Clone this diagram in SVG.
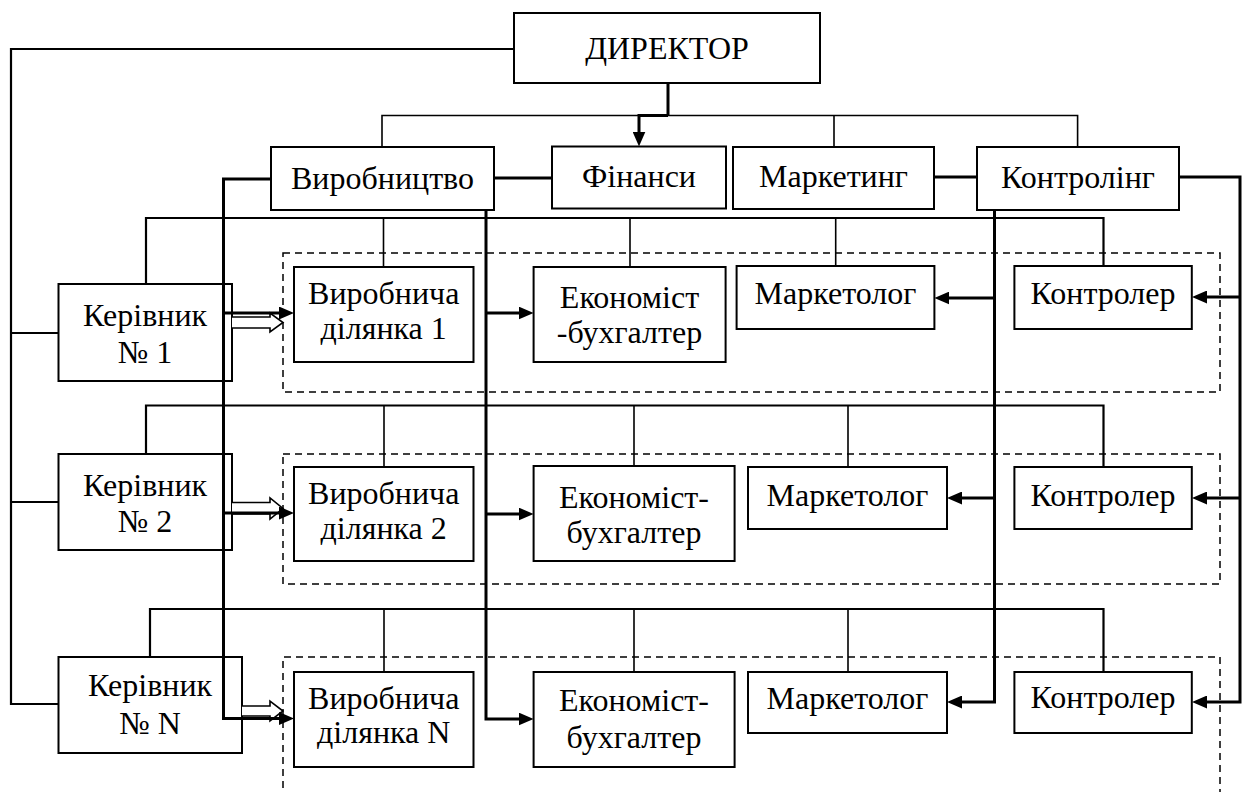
<svg xmlns="http://www.w3.org/2000/svg" width="1244" height="792" viewBox="0 0 1244 792">
<style>
.box{fill:#fff;stroke:#000;stroke-width:2}
.dash{fill:none;stroke:#000;stroke-width:1.5;stroke-dasharray:7 5}
.ln{fill:none;stroke:#000;stroke-width:1.6}
.md{fill:none;stroke:#000;stroke-width:2.2}
.tk{fill:none;stroke:#000;stroke-width:3}
.hol{fill:#fff;stroke:#000;stroke-width:1.6}
.t{font-size:32px;fill:#000;text-anchor:middle}
</style>
<defs>
<marker id="ah" markerUnits="userSpaceOnUse" markerWidth="15" markerHeight="13" refX="4" refY="6.5" orient="auto" viewBox="0 0 15 13">
<path d="M0,0 L15,6.5 L0,13 z" fill="#000"/>
</marker>
</defs>
<rect width="1244" height="792" fill="#fff"/>
<g id="groups">
<rect class="dash" x="283" y="253" width="937" height="139"/>
<rect class="dash" x="283" y="454" width="937" height="130"/>
<path class="dash" d="M283,800 V657 H1220 V800"/>
</g>
<g font-family="'Liberation Serif', 'DejaVu Serif', serif">
<g id="director"><rect class="box" x="514" y="13" width="306" height="70"/><text class="t" x="667" y="59">ДИРЕКТОР</text></g>
<g id="vyrobnytstvo"><rect class="box" x="271" y="147" width="223" height="63"/><text class="t" x="382.5" y="189">Виробництво</text></g>
<g id="finansy"><rect class="box" x="552" y="146.5" width="174" height="62"/><text class="t" x="639" y="187">Фінанси</text></g>
<g id="marketynh"><rect class="box" x="733" y="147" width="201" height="62"/><text class="t" x="833.5" y="187">Маркетинг</text></g>
<g id="kontrolinh"><rect class="box" x="977" y="147" width="202" height="63"/><text class="t" x="1078" y="188">Контролінг</text></g>
<g id="kerivnyk1"><rect class="box" x="58.5" y="284" width="173.5" height="97"/><text class="t" x="145" y="326">Керівник</text><text class="t" x="145" y="363">№ 1</text></g>
<g id="kerivnyk2"><rect class="box" x="58.5" y="454" width="173.5" height="96"/><text class="t" x="145" y="496">Керівник</text><text class="t" x="145" y="532">№ 2</text></g>
<g id="kerivnykN"><rect class="box" x="58.5" y="657" width="183.5" height="96"/><text class="t" x="150" y="696">Керівник</text><text class="t" x="150" y="734">№ N</text></g>
<g id="dilianka1"><rect class="box" x="294" y="267" width="179.5" height="95"/><text class="t" x="383.7" y="304">Виробнича</text><text class="t" x="383.7" y="339">ділянка 1</text></g>
<g id="dilianka2"><rect class="box" x="294" y="467" width="179.5" height="94"/><text class="t" x="383.7" y="504">Виробнича</text><text class="t" x="383.7" y="539">ділянка 2</text></g>
<g id="diliankaN"><rect class="box" x="294" y="672" width="179.5" height="95"/><text class="t" x="383.7" y="709">Виробнича</text><text class="t" x="383.7" y="743">ділянка N</text></g>
<g id="ekonomist1"><rect class="box" x="533.6" y="267" width="192" height="95"/><text class="t" x="629.5" y="308">Економіст</text><text class="t" x="629.5" y="343">-бухгалтер</text></g>
<g id="ekonomist2"><rect class="box" x="533.6" y="466" width="201" height="95"/><text class="t" x="634" y="508">Економіст-</text><text class="t" x="634" y="543">бухгалтер</text></g>
<g id="ekonomistN"><rect class="box" x="533.6" y="672" width="201" height="95"/><text class="t" x="634" y="711">Економіст-</text><text class="t" x="634" y="748">бухгалтер</text></g>
<g id="marketoloh1"><rect class="box" x="736.6" y="266" width="197.8" height="63"/><text class="t" x="835.5" y="304">Маркетолог</text></g>
<g id="marketoloh2"><rect class="box" x="748" y="467" width="199" height="62"/><text class="t" x="847.5" y="506">Маркетолог</text></g>
<g id="marketolohN"><rect class="box" x="748" y="672" width="199" height="61"/><text class="t" x="847.5" y="709">Маркетолог</text></g>
<g id="kontroler1"><rect class="box" x="1014.4" y="266" width="177.4" height="63"/><text class="t" x="1103" y="304">Контролер</text></g>
<g id="kontroler2"><rect class="box" x="1014.4" y="467" width="177.4" height="62"/><text class="t" x="1103" y="506">Контролер</text></g>
<g id="kontrolerN"><rect class="box" x="1014.4" y="672" width="177.4" height="61"/><text class="t" x="1103" y="708">Контролер</text></g>
</g>
<g id="connectors">
<path class="md" d="M514,49 H11 V704 H58.5 M11,333 H58.5 M11,502 H58.5"/>
<path class="tk" d="M668,83 V115.5"/>
<path class="ln" d="M382,147 V115.5 H1077.6 V147 M834,115.5 V147"/>
<path class="tk" d="M668,115.5 H639 V135.5" marker-end="url(#ah)"/>
<path class="tk" d="M494,178 H552 M934,177 H977"/>
<path class="md" d="M146,284 V218 H1103.5 V266"/>
<path class="ln" d="M383.5,218 V267 M630,218 V267 M835.7,218 V266"/>
<path class="md" d="M146,454 V405.5 H1103.5 V467"/>
<path class="ln" d="M384,405.5 V467 M634,405.5 V466 M848,405.5 V467"/>
<path class="md" d="M150,657 V609 H1103.5 V672"/>
<path class="ln" d="M384,609 V672 M634,609 V672 M848,609 V672"/>
<path class="hol" d="M232,317 H270 V313 L283,322.5 L270,332 V328 H232"/>
<path class="hol" d="M232,502.5 H270 V498 L283,508.5 L270,519 V514 H232"/>
<path class="hol" d="M242,706 H270 V701 L283,711 L270,721 V716 H242"/>
<path class="tk" d="M271,179 H223.5 V718.5 H283" marker-end="url(#ah)"/>
<path class="tk" d="M223.5,313 H283" marker-end="url(#ah)"/>
<path class="tk" d="M223.5,513 H283" marker-end="url(#ah)"/>
<path class="tk" d="M486,210 V719 H522.6" marker-end="url(#ah)"/>
<path class="tk" d="M486,313 H522.6" marker-end="url(#ah)"/>
<path class="tk" d="M486,514 H522.6" marker-end="url(#ah)"/>
<path class="tk" d="M994.5,210 V702 H958" marker-end="url(#ah)"/>
<path class="tk" d="M994.5,298 H945.4" marker-end="url(#ah)"/>
<path class="tk" d="M994.5,498 H958" marker-end="url(#ah)"/>
<path class="tk" d="M1179,177 H1240 V702 H1203" marker-end="url(#ah)"/>
<path class="tk" d="M1240,297 H1203" marker-end="url(#ah)"/>
<path class="tk" d="M1240,498 H1203" marker-end="url(#ah)"/>
</g>
</svg>
